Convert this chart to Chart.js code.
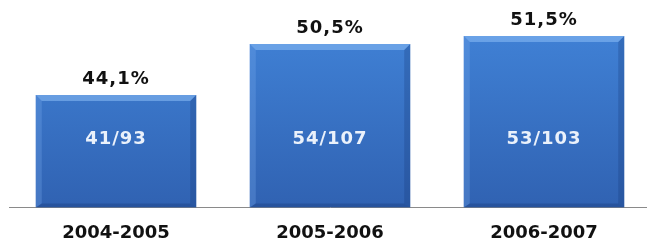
<!DOCTYPE html>
<html>
<head>
<meta charset="utf-8">
<script src="https://cdn.jsdelivr.net/npm/chart.js@4.4.1/dist/chart.umd.min.js"></script>
<style>
  html, body { margin: 0; padding: 0; background: #fff; overflow: hidden; }
  #wrap { width: 652px; height: 259px; }
</style>
</head>
<body>
<div id="wrap"><canvas id="myChart"></canvas></div>
<script>
const seasons = ['2004-2005', '2005-2006', '2006-2007'];
const rates = [44.1, 50.5, 51.5];
const rateLabels = ['44,1%', '50,5%', '51,5%'];
const ratioLabels = ['41/93', '54/107', '53/103'];

const labelFont = 'bold 18px "DejaVu Sans", Verdana, sans-serif';

// vertical gradient for the bars
const barFill = function (ctx) {
    const area = ctx.chart.chartArea;
    if (!area) return '#3b78cc';
    const g = ctx.chart.ctx.createLinearGradient(0, area.top, 0, area.bottom);
    g.addColorStop(0, '#4285da');
    g.addColorStop(1, '#3062b2');
    return g;
};

// bevel edges + the two label rows
const barText = {
    id: 'barText',
    afterDatasetsDraw(chart) {
        const ctx = chart.ctx;
        const meta = chart.getDatasetMeta(0);
        ctx.save();
        meta.data.forEach((bar, i) => {
            const left = bar.x - bar.width / 2;
            const right = bar.x + bar.width / 2;
            const top = bar.y;
            const bottom = bar.base;

            // top bevel
            ctx.fillStyle = 'rgba(140,190,245,0.55)';
            ctx.beginPath();
            ctx.moveTo(left, top);
            ctx.lineTo(right, top);
            ctx.lineTo(right - 6, top + 6);
            ctx.lineTo(left + 6, top + 6);
            ctx.closePath();
            ctx.fill();
            // left edge
            ctx.fillStyle = 'rgba(120,170,235,0.3)';
            ctx.beginPath();
            ctx.moveTo(left, top);
            ctx.lineTo(left + 6, top + 6);
            ctx.lineTo(left + 6, bottom - 4);
            ctx.lineTo(left, bottom);
            ctx.closePath();
            ctx.fill();
            // right edge
            ctx.fillStyle = 'rgba(20,50,110,0.25)';
            ctx.beginPath();
            ctx.moveTo(right, top);
            ctx.lineTo(right - 6, top + 6);
            ctx.lineTo(right - 6, bottom - 4);
            ctx.lineTo(right, bottom);
            ctx.closePath();
            ctx.fill();
            // bottom edge
            ctx.fillStyle = 'rgba(20,50,110,0.3)';
            ctx.beginPath();
            ctx.moveTo(left, bottom);
            ctx.lineTo(left + 6, bottom - 4);
            ctx.lineTo(right - 6, bottom - 4);
            ctx.lineTo(right, bottom);
            ctx.closePath();
            ctx.fill();

            ctx.font = labelFont;
            ctx.textAlign = 'center';
            ctx.textBaseline = 'alphabetic';
            ctx.letterSpacing = '1px';
            ctx.fillStyle = '#111';
            ctx.fillText(rateLabels[i], bar.x, top - 11);

            ctx.fillStyle = '#eaf1fb';
            ctx.textBaseline = 'middle';
            ctx.fillText(ratioLabels[i], bar.x, bottom - 68);
        });
        ctx.restore();
    }
};

new Chart('myChart', {
    type: 'bar',
    data: {
        labels: seasons,
        datasets: [{
            data: rates,
            base: 30,
            backgroundColor: barFill,
            borderWidth: 0,
            categoryPercentage: 1,
            barPercentage: 0.75
        }]
    },
    options: {
        responsive: true,
        maintainAspectRatio: false,
        animation: false,
        layout: { padding: { left: 9, right: 1, top: 8, bottom: 0 } },
        plugins: {
            legend: { display: false },
            tooltip: { enabled: false }
        },
        scales: {
            y: {
                display: false,
                min: 30,
                max: 55
            },
            x: {
                grid: { display: false, drawTicks: false },
                border: { display: true, color: '#8a8a8a', width: 1 },
                ticks: {
                    color: '#111',
                    padding: 15,
                    maxRotation: 0,
                    font: { family: '"DejaVu Sans", Verdana, sans-serif', size: 18, weight: 'bold' }
                }
            }
        }
    },
    plugins: [barText]
});
</script>
</body>
</html>
